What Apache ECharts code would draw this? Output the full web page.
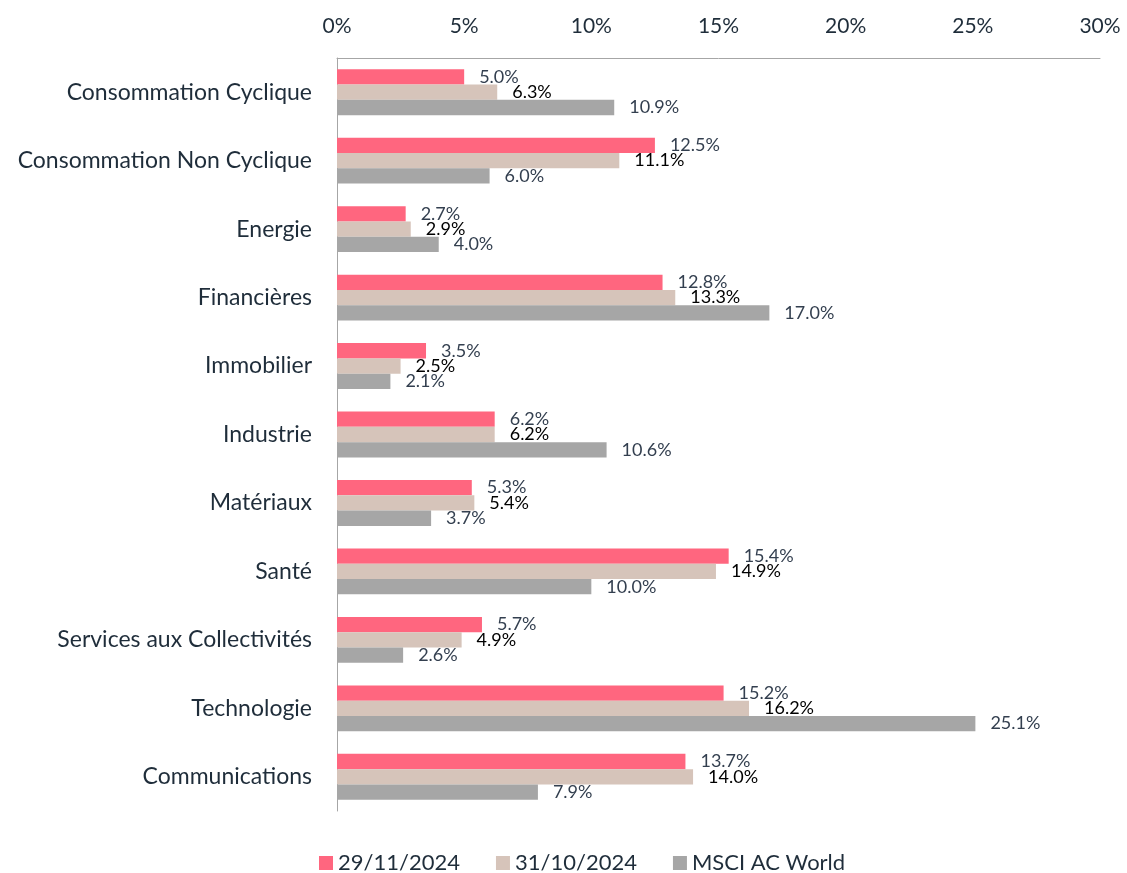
<!DOCTYPE html>
<html>
<head>
<meta charset="utf-8">
<script src="https://cdn.jsdelivr.net/npm/echarts@6/dist/echarts.min.js"></script>
<style>
  html, body { margin: 0; padding: 0; background: #fff; }
  #chart { width: 1127px; height: 873px; }
</style>
</head>
<body>
<div id="chart"></div>
<script>
// secteurs, de haut en bas
var categories = ['Consommation Cyclique', 'Consommation Non Cyclique', 'Energie', 'Financières', 'Immobilier',
    'Industrie', 'Matériaux', 'Santé', 'Services aux Collectivités', 'Technologie', 'Communications']
var nov2024 = [5.0, 12.5, 2.7, 12.8, 3.5, 6.2, 5.3, 15.4, 5.7, 15.2, 13.7]
var oct2024 = [6.3, 11.1, 2.9, 13.3, 2.5, 6.2, 5.4, 14.9, 4.9, 16.2, 14.0]
var msci = [10.9, 6.0, 4.0, 17.0, 2.1, 10.6, 3.7, 10.0, 2.6, 25.1, 7.9]
var seriesNames = ['29/11/2024', '31/10/2024', 'MSCI AC World']

var font = 'Lato, "Open Sans", sans-serif'
var textColor = '#1f2d3a'

function barSeries(name, data, color, labelColor) {
    return {
        name: name,
        type: 'bar',
        data: data,
        barGap: '0%',
        barCategoryGap: '33%',
        itemStyle: { color: color },
        label: {
            show: true,
            position: 'right',
            distance: 15,
            fontFamily: font,
            fontSize: 18,
            color: labelColor,
            formatter: function (p) { return p.value.toFixed(1) + '%' }
        }
    }
}

var myChart = echarts.init(document.getElementById('chart'))
myChart.setOption({
    animation: false,
    grid: { left: 337, right: 27, top: 58, bottom: 62 },
    legend: {
        top: 847,
        left: 314,
        itemWidth: 14,
        itemHeight: 14,
        itemGap: 36,
        icon: 'rect',
        textStyle: { fontFamily: font, fontSize: 22, color: textColor },
        data: seriesNames
    },
    xAxis: {
        type: 'value',
        position: 'top',
        min: 0,
        max: 30,
        interval: 5,
        axisLine: { show: true, lineStyle: { color: '#a6a6a6' } },
        axisTick: { show: false },
        splitLine: { show: false },
        axisLabel: {
            margin: 21,
            fontFamily: font,
            fontSize: 21,
            color: textColor,
            formatter: '{value}%'
        }
    },
    yAxis: {
        type: 'category',
        inverse: true,
        data: categories,
        axisLine: { show: true, lineStyle: { color: '#a6a6a6' } },
        axisTick: { show: false },
        axisLabel: { margin: 25, fontFamily: font, fontSize: 23, color: textColor }
    },
    series: [
        barSeries(seriesNames[0], nov2024, '#ff667f', '#333f4f'),
        barSeries(seriesNames[1], oct2024, '#d6c4ba', '#000000'),
        barSeries(seriesNames[2], msci, '#a6a6a6', '#333f4f')
    ]
})
window.addEventListener('resize', function () { myChart.resize() })
</script>
</body>
</html>
